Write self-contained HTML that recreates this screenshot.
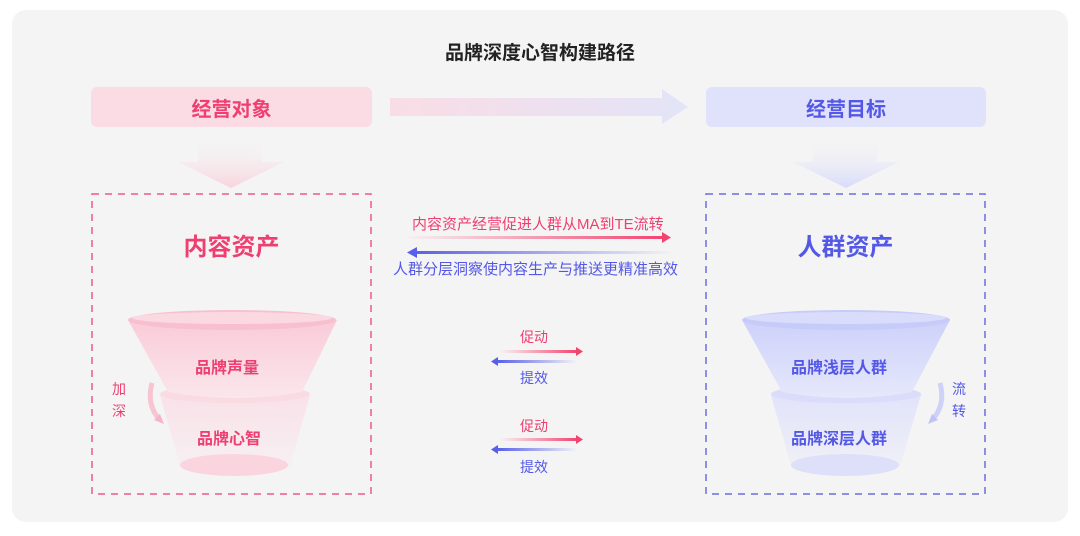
<!DOCTYPE html>
<html><head><meta charset="utf-8"><style>
body{margin:0;width:1080px;height:536px;background:#fff;font-family:"Liberation Sans","Noto Sans CJK SC",sans-serif;position:relative;overflow:hidden}
.t{position:absolute;white-space:nowrap}
</style></head><body>
<svg width="1080" height="536" style="position:absolute;left:0;top:0">
<defs>
<linearGradient id="ga" x1="0" x2="1"><stop offset="0" stop-color="#f9dde5"/><stop offset="1" stop-color="#e3e4f8"/></linearGradient>
<linearGradient id="pk" x1="0" y1="0" x2="0" y2="1"><stop offset="0" stop-color="#f4f4f4" stop-opacity="0"/><stop offset="1" stop-color="#f9d3de"/></linearGradient>
<linearGradient id="bl" x1="0" y1="0" x2="0" y2="1"><stop offset="0" stop-color="#f4f4f4" stop-opacity="0"/><stop offset="1" stop-color="#d8dbfb"/></linearGradient>
<linearGradient id="ar1" x1="0" x2="1"><stop offset="0" stop-color="#f3436f" stop-opacity="0"/><stop offset="1" stop-color="#f3436f"/></linearGradient>
<linearGradient id="ar2" x1="1" x2="0"><stop offset="0" stop-color="#5860e8" stop-opacity="0"/><stop offset="1" stop-color="#5860e8"/></linearGradient>
<linearGradient id="fp" x1="0" y1="0" x2="0" y2="1"><stop offset="0" stop-color="#f9cbd8"/><stop offset="1" stop-color="#fbe6ec"/></linearGradient>
<linearGradient id="fp2" x1="0" y1="0" x2="0" y2="1"><stop offset="0" stop-color="#f9e1e8"/><stop offset="1" stop-color="#f6f1f3"/></linearGradient>
<linearGradient id="fb" x1="0" y1="0" x2="0" y2="1"><stop offset="0" stop-color="#cdd1fa"/><stop offset="1" stop-color="#e6e8fb"/></linearGradient>
<linearGradient id="fb2" x1="0" y1="0" x2="0" y2="1"><stop offset="0" stop-color="#e1e3fa"/><stop offset="1" stop-color="#f1f1f6"/></linearGradient>
</defs>
<rect x="12" y="10" width="1056" height="512" rx="14" fill="#f4f4f4"/>
<rect x="91" y="87" width="281" height="40" rx="6" fill="#fbdbe4"/>
<rect x="706" y="87" width="280" height="40" rx="6" fill="#e0e2fb"/>
<polygon points="390,98 662,98 662,89 688,107 662,124 662,116 390,116" fill="url(#ga)"/>
<path d="M198 136 H262 V162 H284 L231 188 L178 162 H198Z" fill="url(#pk)"/>
<path d="M813 136 H877 V162 H899 L846 188 L793 162 H813Z" fill="url(#bl)"/>
<rect x="92" y="194" width="279" height="300" fill="none" stroke="#ec5a86" stroke-width="1.5" stroke-dasharray="7 6"/>
<rect x="706" y="194" width="279" height="300" fill="none" stroke="#6a6fe0" stroke-width="1.5" stroke-dasharray="7 6"/>
<!-- left funnel -->
<path d="M160 395 L180 466 Q235 480 290 466 L310 395Z" fill="url(#fp2)"/>
<ellipse cx="235" cy="394" rx="75" ry="9" fill="#f9dbe3"/>
<ellipse cx="234" cy="465" rx="54" ry="11" fill="#fad5df"/>
<path d="M128 320 L168 392 Q235 404 302 392 L337 320Z" fill="url(#fp)"/>
<ellipse cx="232" cy="320" rx="104" ry="10" fill="#f8bfcf"/>
<ellipse cx="232" cy="318" rx="100" ry="6" fill="#fbd9e2"/>
<path d="M152 383 Q146 405 160 420" fill="none" stroke="#f7c4d2" stroke-width="5"/>
<polygon points="154,420 164,424 160,414" fill="#f7b4c7"/>
<!-- right funnel -->
<path d="M771 395 L791 466 Q845 480 900 466 L921 395Z" fill="url(#fb2)"/>
<ellipse cx="846" cy="394" rx="75" ry="9" fill="#dadcfa"/>
<ellipse cx="845" cy="465" rx="54" ry="11" fill="#dee0fa"/>
<path d="M742 320 L782 392 Q846 404 912 392 L950 320Z" fill="url(#fb)"/>
<ellipse cx="846" cy="320" rx="104" ry="10" fill="#c6cbf9"/>
<ellipse cx="846" cy="318" rx="100" ry="6" fill="#d9dcfb"/>
<path d="M940 383 Q946 405 932 420" fill="none" stroke="#cfd2f6" stroke-width="5"/>
<polygon points="938,420 928,424 932,414" fill="#c0c4f3"/>
<!-- middle arrows -->
<rect x="405" y="236" width="260" height="3" fill="url(#ar1)"/><polygon points="662,232 671,237.5 662,243" fill="#f3436f"/>
<rect x="414" y="251" width="260" height="3" fill="url(#ar2)"/><polygon points="417,247 407,252.5 417,258" fill="#5860e8"/>
<rect x="500" y="350" width="78" height="3" fill="url(#ar1)"/><polygon points="576,347 583,351.5 576,356" fill="#f3436f"/>
<rect x="497" y="360" width="80" height="3" fill="url(#ar2)"/><polygon points="498,357 491,361.5 498,366" fill="#5860e8"/>
<rect x="500" y="438" width="78" height="3" fill="url(#ar1)"/><polygon points="576,435 583,439.5 576,444" fill="#f3436f"/>
<rect x="497" y="448" width="80" height="3" fill="url(#ar2)"/><polygon points="498,445 491,449.5 498,454" fill="#5860e8"/>
</svg>
<div class="t" style="left:0;width:1080px;text-align:center;top:38px;font-size:19px;font-weight:bold;color:#222">品牌深度心智构建路径</div>
<div class="t" style="left:91px;width:281px;text-align:center;top:93px;font-size:20px;font-weight:bold;color:#ef3f70">经营对象</div>
<div class="t" style="left:706px;width:280px;text-align:center;top:93px;font-size:20px;font-weight:bold;color:#5458e6">经营目标</div>
<div class="t" style="left:92px;width:279px;text-align:center;top:227px;font-size:24px;font-weight:bold;color:#ef3f70">内容资产</div>
<div class="t" style="left:706px;width:279px;text-align:center;top:227px;font-size:24px;font-weight:bold;color:#5458e6">人群资产</div>
<div class="t" style="left:412px;top:213px;font-size:15px;color:#ef3f70">内容资产经营促进人群从MA到TE流转</div>
<div class="t" style="left:393px;top:258px;font-size:15px;color:#5458e6">人群分层洞察使内容生产与推送更精准高效</div>
<div class="t" style="left:520px;top:327px;font-size:14px;color:#ef3f70">促动</div>
<div class="t" style="left:520px;top:368px;font-size:14px;color:#5458e6">提效</div>
<div class="t" style="left:520px;top:416px;font-size:14px;color:#ef3f70">促动</div>
<div class="t" style="left:520px;top:457px;font-size:14px;color:#5458e6">提效</div>
<div class="t" style="left:195px;top:354px;font-size:16px;font-weight:bold;color:#ef3f70">品牌声量</div>
<div class="t" style="left:197px;top:425px;font-size:16px;font-weight:bold;color:#ef3f70">品牌心智</div>
<div class="t" style="left:112px;top:378px;font-size:14px;line-height:22px;color:#ef3f70;width:16px;white-space:normal">加深</div>
<div class="t" style="left:791px;top:354px;font-size:16px;font-weight:bold;color:#5458e6">品牌浅层人群</div>
<div class="t" style="left:791px;top:425px;font-size:16px;font-weight:bold;color:#5458e6">品牌深层人群</div>
<div class="t" style="left:952px;top:378px;font-size:14px;line-height:22px;color:#5458e6;width:16px;white-space:normal">流转</div>
</body></html>
